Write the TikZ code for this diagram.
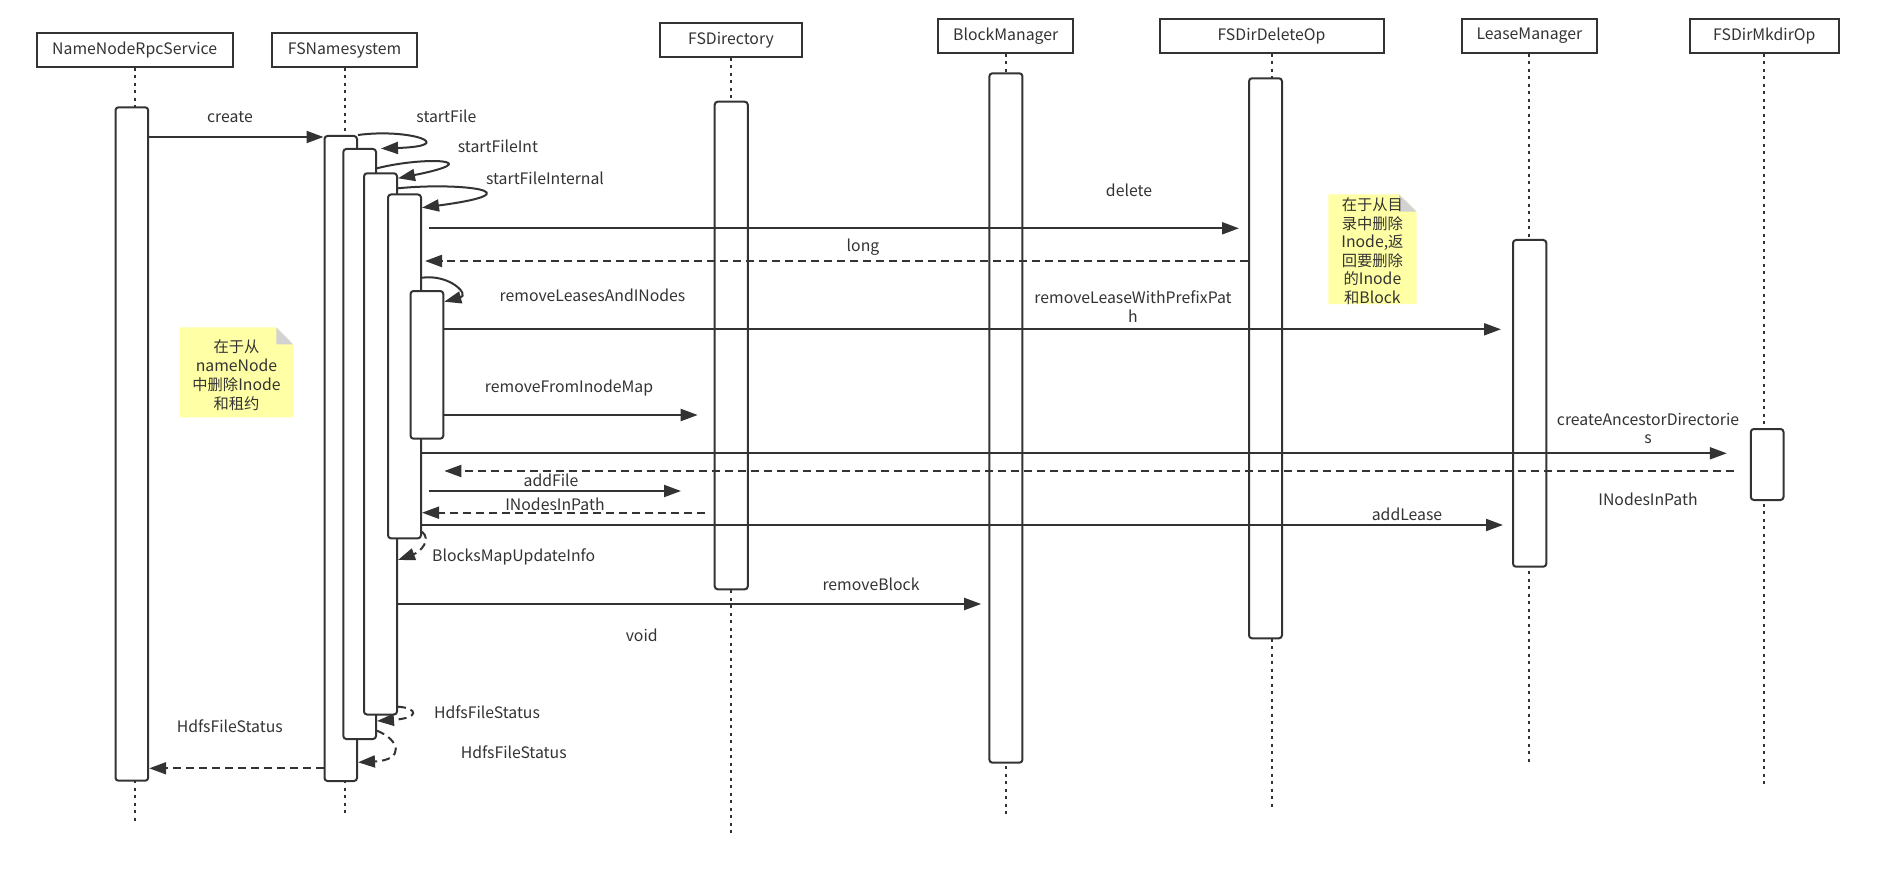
\documentclass[tikz,border=0pt]{standalone}
\usepackage{fontspec}
\setmainfont{Noto Sans CJK SC}
\usetikzlibrary{arrows.meta,calc,fit}
\definecolor{ink}{HTML}{333333}
\definecolor{noteyellow}{HTML}{FFFFA6}
\definecolor{notefold}{HTML}{D2D2D2}
\newcommand\zh[1]{{\fontsize{15.3}{19}\selectfont #1}}
\begin{document}
\begin{tikzpicture}[x=1pt,y=-1pt,
  every node/.style={text=ink},
  hdr/.style={draw=ink,line width=2pt,inner sep=0pt,font=\fontsize{15.8}{19}\selectfont},
  act/.style={draw=ink,fill=white,line width=2pt,rounded corners=3pt,inner sep=0pt},
  life/.style={draw=ink,line width=2pt,dash pattern=on 3pt off 4.5pt},
  msg/.style={draw=ink,line width=2pt,-{Triangle[length=17pt,width=12pt]}},
  ret/.style={msg,dash pattern=on 8pt off 5pt},
  lbl/.style={font=\fontsize{15.8}{18.4}\selectfont,inner sep=0pt,align=center},
  notetxt/.style={inner sep=0pt,align=center}
]
\fill[white] (0,0) rectangle (1890,869);
\useasboundingbox (0,0) rectangle (1890,869);

% headers
\node[hdr,minimum width=196pt,minimum height=33.4pt] (h1) at (134.7,50) {NameNodeRpcService};
\node[hdr,minimum width=145pt,minimum height=33.4pt] (h2) at (344.5,50) {FSNamesystem};
\node[hdr,minimum width=142pt,minimum height=33.4pt] (h3) at (731,40) {FSDirectory};
\node[hdr,minimum width=134.6pt,minimum height=33.7pt] (h4) at (1005.7,35.8) {BlockManager};
\node[hdr,minimum width=224pt,minimum height=33.7pt] (h5) at (1271.5,35.8) {FSDirDeleteOp};
\node[hdr,minimum width=135pt,minimum height=33.7pt] (h6) at (1529.4,35.8) {LeaseManager};
\node[hdr,minimum width=149.4pt,minimum height=33.7pt] (h7) at (1764.3,35.8) {FSDirMkdirOp};

% lifeline ends
\coordinate (e1) at (134.7,822.3);
\coordinate (e2) at (344.5,816);
\coordinate (e3) at (731,836.7);
\coordinate (e4) at (1005.7,816);
\coordinate (e5) at (1271.5,809);
\coordinate (e6) at (1529.4,761.7);
\coordinate (e7) at (1764.3,786.7);
\draw[life] (h1.south) -- (e1);
\draw[life] (h2.south) -- (e2);
\draw[life] (h3.south) -- (e3);
\draw[life] (h4.south) -- (e4);
\draw[life] (h5.south) -- (e5);
\draw[life] (h6.south) -- (e6);
\draw[life] (h7.south) -- (e7);

% activations
\node[act,fit={(115.5,107.3) (148.2,780.7)}] (n1) {};
\node[act,fit={(324.5,136) (357,781)}] (f1) {};
\node[act,fit={(343.3,149) (376,739)}] (f2) {};
\node[act,fit={(364,173.3) (397,714.5)}] (f3) {};
\node[act,fit={(388,194.5) (421,538.3)}] (f4) {};
\node[act,fit={(410.5,291) (443.3,438.7)}] (f5) {};
\node[act,fit={(714.7,101.7) (747.8,589.3)}] (d1) {};
\node[act,fit={(989.4,73.3) (1022.4,762.7)}] (b1) {};
\node[act,fit={(1249,78.3) (1282,638.3)}] (o1) {};
\node[act,fit={(1513,240) (1546.3,566.7)}] (l1) {};
\node[act,fit={(1750.8,429) (1783.5,500)}] (m1) {};

% notes
\path[fill=noteyellow] (179.6,327.3) -- (276.3,327.3) -- (293,344.3) -- (293,417.3) -- (179.6,417.3) -- cycle;
\path[fill=notefold] (276.3,327.3) -- (293,344.3) -- (276.3,344.3) -- cycle;
\node[notetxt,font=\fontsize{15.8}{18.9}\selectfont] (note1) at (236.5,375) {\zh{在于从}\\nameNode\\\zh{中删除}Inode\\\zh{和租约}};
\path[fill=noteyellow] (1328.4,194.3) -- (1399,194.3) -- (1416.5,211.7) -- (1416.5,304) -- (1328.4,304) -- cycle;
\path[fill=notefold] (1399,194.3) -- (1416.5,211.7) -- (1399,211.7) -- cycle;
\node[notetxt,font=\fontsize{15.8}{18.5}\selectfont] (note2) at (1372.4,251.3) {\zh{在于从目}\\\zh{录中删除}\\Inode,\zh{返}\\\zh{回要删除}\\\zh{的}Inode\\\zh{和}Block};

% messages
\draw[msg] (n1.east |- 0,137) -- (f1.west |- 0,137);
\draw[msg] (f1.north east) .. controls (410,128) and (460,146) .. ($(f2.north east)+(4,0.5)$);
\draw[msg] (f2.east |- 0,168.3) .. controls (425,156) and (490,160) .. (f3.east |- 0,178.3);
\draw[msg] (f3.east |- 0,188.3) .. controls (460,182) and (540,192) .. (f4.east |- 0,207.7);
\draw[msg] ($(f4.east |- 0,228.3)+(7.3,0)$) -- ($(o1.west |- 0,228.3)+(-9,0)$);
\draw[ret] (o1.west |- 0,261) -- ($(f4.east |- 0,261)+(3,0)$);
\draw[msg] (f4.east |- 0,277.7) .. controls (450,274) and (470,295) .. (f5.east |- 0,301.7);
\draw[msg] (f5.east |- 0,329.3) -- ($(l1.west |- 0,329.3)+(-11,0)$);
\draw[msg] (f5.east |- 0,415) -- ($(d1.west |- 0,415)+(-16,0)$);
\draw[msg] (f4.east |- 0,453.3) -- ($(m1.west |- 0,453.3)+(-23,0)$);
\draw[ret] ($(m1.west |- 0,471)+(-16,0)$) -- (f5.east |- 0,471);
\draw[msg] ($(f4.east |- 0,491)+(7.3,0)$) -- ($(d1.west |- 0,491)+(-32.7,0)$);
\draw[ret] ($(d1.west |- 0,512.7)+(-8.7,0)$) -- (f4.east |- 0,512.7);
\draw[msg] (f4.east |- 0,525) -- ($(l1.west |- 0,525)+(-9,0)$);
\draw[ret] (f4.east |- 0,531.7) .. controls (432,540) and (420,552) .. (f3.east |- 0,560);
\draw[msg] (f3.east |- 0,604) -- ($(b1.west |- 0,604)+(-7.2,0)$);
\draw[ret] (f3.east |- 0,706.7) .. controls (418,708) and (420,718) .. (f2.east |- 0,721);
\draw[ret] (f2.east |- 0,730.7) .. controls (400,740) and (405,760) .. (f1.east |- 0,762.3);
\draw[ret] (f1.west |- 0,768.3) -- (n1.east |- 0,768.3);

% labels
\node[lbl] (t1) at (230,117) {create};
\node[lbl] (t2) at (446.4,116) {startFile};
\node[lbl] (t3) at (498,146) {startFileInt};
\node[lbl] (t4) at (545,178.3) {startFileInternal};
\node[lbl] (t5) at (1129,190) {delete};
\node[lbl] (t6) at (863,246.7) {long};
\node[lbl] (t7) at (592.5,295) {removeLeasesAndINodes};
\node[lbl] (t8) at (1133,306.5) {removeLeaseWithPrefixPat\\h};
\node[lbl] (t9) at (569,388.3) {removeFromInodeMap};
\node[lbl] (t10) at (1648,428.5) {createAncestorDirectorie\\s};
\node[lbl] (t11) at (1648,499) {INodesInPath};
\node[lbl] (t12) at (551,480) {addFile};
\node[lbl] (t13) at (555,504.3) {INodesInPath};
\node[lbl] (t14) at (1407,514) {addLease};
\node[lbl] (t15) at (513.7,556.7) {BlocksMapUpdateInfo};
\node[lbl] (t16) at (871,584.3) {removeBlock};
\node[lbl] (t17) at (641.7,635) {void};
\node[lbl] (t18) at (487,712.7) {HdfsFileStatus};
\node[lbl] (t19) at (513.7,752.3) {HdfsFileStatus};
\node[lbl] (t20) at (229.8,726.7) {HdfsFileStatus};
\end{tikzpicture}
\end{document}
